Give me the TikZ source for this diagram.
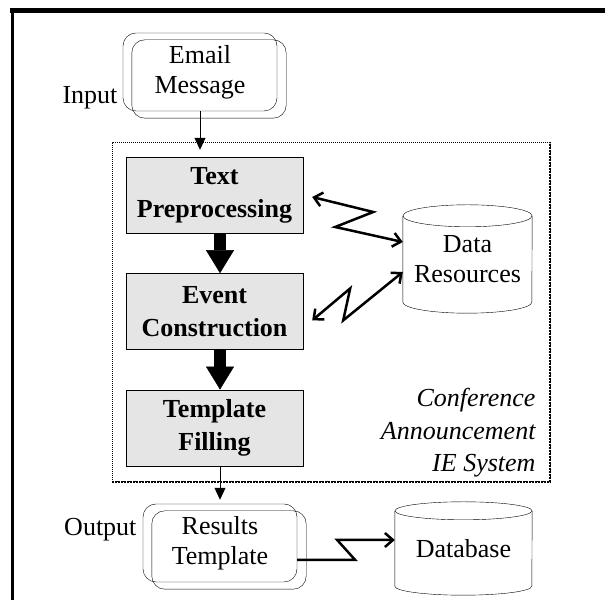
\documentclass[tikz,border=0pt]{standalone}
\usepackage{fontspec}
\setmainfont{Liberation Serif}
\usetikzlibrary{arrows.meta, calc, positioning}

% outline of a drum store round node #1: half width #2, end radius #3
\newcommand{\storeoutline}[3]{
	\draw ($(#1.north)+(0,-#3)$) ellipse [x radius=#2, y radius=#3];
	\draw ($(#1.north west)+(0,-#3)$) -- ($(#1.south west)+(0,#3)$)
		arc[start angle=180, end angle=360, x radius=#2, y radius=#3]
		-- ($(#1.north east)+(0,-#3)$);
}

\begin{document}
\begin{tikzpicture}[x=1pt, y=1pt,
	font=\fontsize{26}{30}\selectfont,
	stagebox/.style={draw, fill=gray!20, minimum width=177pt, minimum height=76pt,
		align=center, font=\fontsize{26}{33}\selectfont\bfseries},
	docbox/.style={draw, rounded corners=13pt, minimum width=154pt, minimum height=78pt,
		align=center},
	dbstore/.style={minimum width=129pt, minimum height=108pt, inner sep=0pt, align=center},
	sysframe/.style={densely dotted, line width=1pt},
	flow/.style={-{Triangle[length=23pt,width=28pt,line width=0.5pt]}, line width=12pt},
	feed/.style={-{Triangle[length=12pt,width=11pt]}, line width=1pt},
	zz/.style={line width=2.5pt, {Straight Barb[length=8pt,width=14pt]}-{Straight Barb[length=8pt,width=14pt]}},
	zzend/.style={line width=2.5pt, -{Straight Barb[length=8pt,width=14pt]}}
]
	\useasboundingbox (0,0) rectangle (605,601);
	\draw[line width=5pt] (10,590) -- (605,590);
	\draw[line width=3pt] (12,592) -- (12,1);

	% input
	\node[docbox] (email) at (200,529) {Email\\Message};
	\draw[rounded corners=13pt] ($(email.south west)+(9,-7)$) rectangle ($(email.north east)+(9,-7)$);
	\node[anchor=east] (input) at (121,503) {Input};

	% IE system
	\draw[sysframe] (112,119) rectangle (550,458);
	\draw[sysframe, line width=2pt] (112,119) -- (550,119) -- (550,458);
	\node[stagebox] (tp) at (214.5,406) {Text\\Preprocessing};
	\node[stagebox, below=40pt of tp] (ec) {Event\\Construction};
	\node[stagebox, below=40pt of ec] (tf) {Template\\Filling};
	\node[anchor=east, align=right, font=\fontsize{26}{32.5}\selectfont\itshape] (syslbl)
		at (539,168) {Conference\\Announcement\\IE System};

	\node[dbstore] (dr) at (467.5,342) {Data\\Resources};
	\storeoutline{dr}{64.5}{11}

	% output
	\node[docbox] (results) at (220,58) {Results\\Template};
	\draw[rounded corners=13pt] ($(results.south west)+(9,-7)$) rectangle ($(results.north east)+(9,-7)$);
	\node[anchor=east] (output) at (140,71) {Output};

	\node[dbstore, minimum width=137pt, minimum height=93pt] (db) at (463.5,52.5) {Database};
	\storeoutline{db}{68.5}{9}

	% connectors
	\draw[feed, shorten >=7pt] (email.south) -- (email.south |- tp.north);
	\draw[flow] ([xshift=5.5pt]tp.south) -- ([xshift=5.5pt]ec.north);
	\draw[flow] ([xshift=5.5pt]ec.south) -- ([xshift=5.5pt]tf.north);
	\draw[feed, shorten >=4pt] ([xshift=5.5pt]tf.south) -- ([xshift=5.5pt]tf.south |- results.north);
	\draw[zz] ($(tp.east)+(9,-2)$) -- ++(61,-15) -- ++(-38,-15) -- ($(dr.west)+(0,17)$);
	\draw[zz] ($(ec.east)+(9,-9)$) -- ++(38,32) -- ++(-7,-32) -- ($(dr.west)+(0,-13)$);
	\draw[zzend] ($(results.east)+(0,-17)$) -- ++(58,0) -- ++(-18,20) -- ($(db.west)+(0,8.5)$);
\end{tikzpicture}
\end{document}
